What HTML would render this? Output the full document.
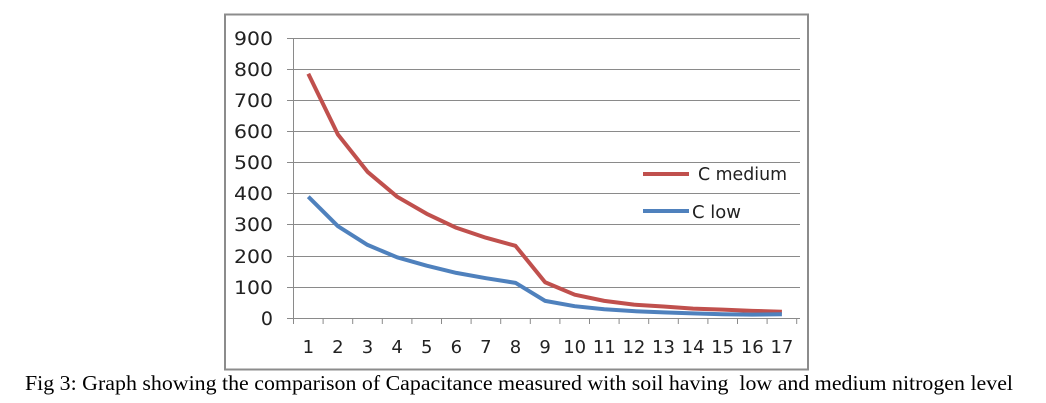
<!DOCTYPE html>
<html><head><style>
body{margin:0;background:#fff;width:1046px;height:403px;overflow:hidden;}
</style></head><body>
<svg width="1046" height="403" xmlns="http://www.w3.org/2000/svg" style="position:absolute;left:0;top:0">
<rect x="225" y="14.5" width="583" height="355" fill="#fff" stroke="#8c8c8c" stroke-width="2"/>
<g stroke="#8a8a8a" stroke-width="1">
<line x1="287" y1="38.5" x2="800" y2="38.5"/>
<line x1="287" y1="69.5" x2="800" y2="69.5"/>
<line x1="287" y1="100.5" x2="800" y2="100.5"/>
<line x1="287" y1="131.5" x2="800" y2="131.5"/>
<line x1="287" y1="162.5" x2="800" y2="162.5"/>
<line x1="287" y1="193.5" x2="800" y2="193.5"/>
<line x1="287" y1="224.5" x2="800" y2="224.5"/>
<line x1="287" y1="256.5" x2="800" y2="256.5"/>
<line x1="287" y1="287.5" x2="800" y2="287.5"/>
<line x1="287" y1="318.5" x2="800" y2="318.5"/>
<line x1="293.5" y1="38" x2="293.5" y2="318"/>
</g>
<g stroke="#8a8a8a" stroke-width="1" id="ticks"></g>
<g font-family="'DejaVu Sans','Liberation Sans',sans-serif" font-size="19" fill="#222" text-anchor="end" lengthAdjust="spacingAndGlyphs">
<text x="273" y="45" textLength="39" lengthAdjust="spacingAndGlyphs">900</text><text x="273" y="76" textLength="39" lengthAdjust="spacingAndGlyphs">800</text><text x="273" y="107" textLength="39" lengthAdjust="spacingAndGlyphs">700</text>
<text x="273" y="138" textLength="39" lengthAdjust="spacingAndGlyphs">600</text><text x="273" y="169" textLength="39" lengthAdjust="spacingAndGlyphs">500</text><text x="273" y="200" textLength="39" lengthAdjust="spacingAndGlyphs">400</text>
<text x="273" y="231" textLength="39" lengthAdjust="spacingAndGlyphs">300</text><text x="273" y="263" textLength="39" lengthAdjust="spacingAndGlyphs">200</text><text x="273" y="294" textLength="39" lengthAdjust="spacingAndGlyphs">100</text>
<text x="273" y="325">0</text>
</g>
<g font-family="'DejaVu Sans','Liberation Sans',sans-serif" font-size="18" fill="#222" text-anchor="middle" id="xl"></g>
<polyline id="med" fill="none" stroke="#c0504d" stroke-width="4" stroke-linejoin="round"/>
<polyline id="low" fill="none" stroke="#4f81bd" stroke-width="4" stroke-linejoin="round"/>
<line x1="643" y1="174" x2="689" y2="174" stroke="#c0504d" stroke-width="4"/>
<text x="698" y="180" font-family="'DejaVu Sans','Liberation Sans',sans-serif" font-size="18" fill="#222" textLength="89" lengthAdjust="spacingAndGlyphs">C medium</text>
<line x1="643" y1="211" x2="689" y2="211" stroke="#4f81bd" stroke-width="4"/>
<text x="692" y="218" font-family="'DejaVu Sans','Liberation Sans',sans-serif" font-size="18" fill="#222" textLength="49" lengthAdjust="spacingAndGlyphs">C low</text>
<text x="25" y="390" font-family="'Liberation Serif',serif" font-size="21.5" fill="#000" textLength="988" lengthAdjust="spacingAndGlyphs">Fig 3: Graph showing the comparison of Capacitance measured with soil having&#160; low and medium nitrogen level</text>
</svg>
<script>
var ns="http://www.w3.org/2000/svg";
var t=document.getElementById('ticks'),xl=document.getElementById('xl');
for(var i=0;i<=17;i++){var x=293.5+i*29.6;var l=document.createElementNS(ns,'line');
l.setAttribute('x1',x);l.setAttribute('x2',x);l.setAttribute('y1',318);l.setAttribute('y2',324);t.appendChild(l);
if(i<17){var s=document.createElementNS(ns,'text');s.setAttribute('x',x+14.8);s.setAttribute('y',353);s.textContent=i+1;xl.appendChild(s);}}
var med=[785,590,470,390,335,290,258,232,115,75,55,43,37,30,27,23,20];
var low=[390,295,235,195,168,145,128,113,55,38,28,22,18,15,12,11,12];
function pts(d){return d.map(function(v,i){return (308.3+i*29.6)+','+(318-v*0.3111)}).join(' ');}
document.getElementById('med').setAttribute('points',pts(med));
document.getElementById('low').setAttribute('points',pts(low));
</script>
</body></html>
